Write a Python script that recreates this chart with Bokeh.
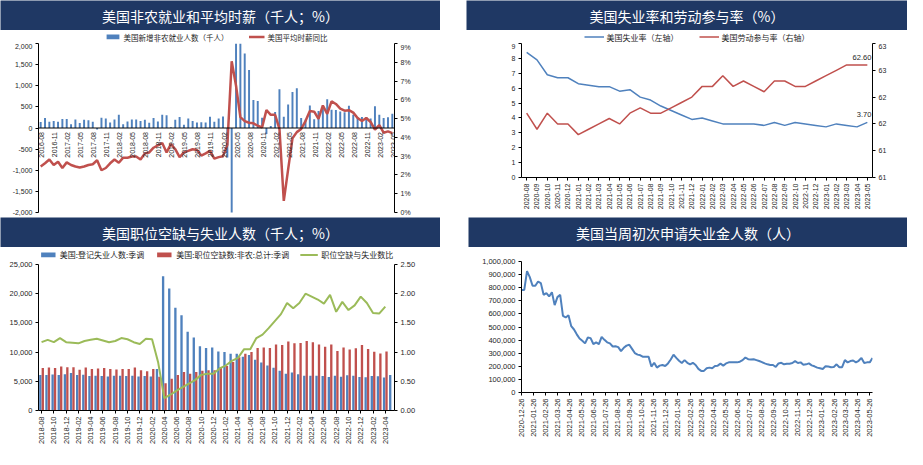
import numpy as np
import pandas as pd
from math import pi
from bokeh.plotting import figure
from bokeh.models import (Range1d, LinearAxis, FixedTicker, NumeralTickFormatter, PrintfTickFormatter,
                          ColumnDataSource, Span, Legend, LegendItem, DatetimeTickFormatter, Spacer)
from bokeh.layouts import row, column
from bokeh.core.properties import value
from bokeh.transform import dodge
from bokeh.embed import file_html
from bokeh.resources import INLINE

NAVY = "#1F3864"
BLUE = "#4F81BD"
RED = "#C0504D"
GREEN = "#9BBB59"
CJK = "Noto Sans CJK SC"
LAT = "Liberation Sans"
TXT = "#262626"
NAN = float("nan")

# ---------------- panel 1: nonfarm payrolls & hourly earnings ----------------
p1_title = "美国非农就业和平均时薪（千人；%）"
p1_legend = ["美国新增非农就业人数（千人）", "美国平均时薪同比"]
p1_months = [str(m) for m in pd.period_range("2016-08", "2023-05", freq="M")]
nfp = [141, 237, 148, 163, 148,
       215, 215, 89, 200, 118, 193, 185, 148, -33, 244, 222, 133,
       200, 311, 89, 155, 200, 200, 163, 193, 126, 237, 155, 311,
       304, 20, 196, 263, 75, 224, 164, 130, 136, 128, 266, 145,
       225, 273, -701, -20500, 2509, 4800, 1763, 1371, 661, 638, 245, -140,
       49, 379, 916, 266, 559, 850, 943, 235, 194, 531, 210, 400,
       467, 678, 431, 428, 390, 372, 528, 315, 263, 261, 263, 223,
       517, 311, 236, 253, 339]
ahe = [2.45, 2.62, 2.82, 2.53, 2.70,
       2.37, 2.67, 2.53, 2.45, 2.40, 2.45, 2.53, 2.57, 2.78, 2.25, 2.37, 2.62,
       2.82, 2.65, 2.92, 2.92, 2.98, 2.98, 2.82, 3.15, 3.20, 3.45, 3.58, 3.70,
       3.20, 3.65, 3.37, 2.95, 3.20, 3.28, 3.37, 3.33, 3.03, 3.15, 3.28, 2.87,
       2.95, 3.00, 3.60, 8.05, 6.75, 5.08, 4.87, 4.78, 4.75, 4.62, 4.53, 5.45,
       5.20, 5.20, 4.45, 0.62, 2.30, 3.95, 4.28, 4.45, 4.87, 5.40, 5.37, 4.98,
       5.70, 5.25, 5.92, 5.78, 5.53, 5.42, 5.45, 5.32, 5.03, 4.87, 5.03, 4.82,
       4.42, 4.65, 4.25, 4.32, 4.23]
p1_left_ticks = [-2000, -1500, -1000, -500, 0, 500, 1000, 1500, 2000]
p1_right_ticks = [0, 1, 2, 3, 4, 5, 6, 7, 8, 9]

# ---------------- panel 2: unemployment rate & participation ----------------
p2_title = "美国失业率和劳动参与率（%）"
p2_legend = ["美国失业率（左轴）", "美国劳动参与率（右轴）"]
p2_months = [str(m) for m in pd.period_range("2020-08", "2023-05", freq="M")]
ur = [8.4, 7.9, 6.9, 6.7, 6.7, 6.3, 6.2, 6.1, 6.1, 5.8, 5.9, 5.4, 5.2, 4.8, 4.5, 4.2, 3.9,
      4.0, 3.8, 3.6, 3.6, 3.6, 3.6, 3.5, 3.7, 3.5, 3.7, 3.6, 3.5, 3.4, 3.6, 3.5, 3.4, 3.7]
lfpr = [61.7, 61.4, 61.7, 61.5, 61.5, 61.3, 61.4, 61.5, 61.6, 61.5, 61.7, 61.8, 61.7, 61.7,
        61.8, 61.9, 62.0, 62.2, 62.2, 62.4, 62.2, 62.3, 62.2, 62.1, 62.3, 62.3, 62.2, 62.2,
        62.3, 62.4, 62.5, 62.6, 62.6, 62.6]
p2_left_ticks = [0, 1, 2, 3, 4, 5, 6, 7, 8, 9]
p2_right_ticks = [60.5, 61.0, 61.5, 62.0, 62.5, 63.0]
p2_right_labels = ["61", "61", "62", "62", "63", "63"]

# ---------------- panel 3: openings vs unemployed ----------------
p3_title = "美国职位空缺与失业人数（千人；%）"
p3_legend = ["美国:登记失业人数:季调", "美国:职位空缺数:非农:总计:季调", "职位空缺与失业数比"]
p3_months = [str(m) for m in pd.period_range("2018-08", "2023-05", freq="M")]
unemployed = [6060, 6060, 6170, 6060, 6220, 6440, 6060, 6110, 5900, 5950, 5900, 5840, 5950,
              5950, 5900, 5950, 5840, 5900, 5840, 7100,
              23000, 20900, 17600, 16300, 13500, 12500, 11000, 10700, 10800,
              10100, 10000, 9700, 9700, 9200, 9500, 8700, 8200, 7700, 7300, 6800, 6300,
              6500, 6200, 5950, 5950, 5950, 5900, 5750, 5950, 5800, 6050, 5950, 5750,
              5700, 5900, 5850, 5650, 6100]
openings = [7260, 7370, 7260, 7530, 7420, 7420, 6990, 7370, 7100, 7200, 7260, 7100, 7040,
            7100, 7100, 7370, 6880, 6710, 7100, 5800,
            4650, 5450, 6100, 6600, 6300, 6600, 6800, 6900, 6900,
            7400, 7600, 8300, 9100, 9700, 10000, 10700, 10800, 10700, 11300, 11200, 11800,
            11500, 11550, 11900, 11700, 11300, 10900, 11300, 10200, 10800, 10450, 10650, 11200,
            10550, 10050, 9750, 10100, NAN]
ratio = [1.17, 1.21, 1.17, 1.24, 1.17, 1.16, 1.15, 1.19, 1.21, 1.23, 1.20, 1.17, 1.19,
         1.24, 1.22, 1.17, 1.14, 1.23, 1.22, 0.82,
         0.21, 0.27, 0.34, 0.40, 0.46, 0.52, 0.61, 0.63, 0.63,
         0.72, 0.77, 0.85, 0.90, 1.05, 1.05, 1.24, 1.30, 1.41, 1.53, 1.65, 1.84,
         1.75, 1.84, 2.00, 1.95, 1.90, 1.83, 1.98, 1.69, 1.86, 1.72, 1.80, 1.95,
         1.84, 1.67, 1.66, 1.78, NAN]
p3_left_ticks = [0, 5000, 10000, 15000, 20000, 25000]
p3_right_ticks = [0, 0.5, 1.0, 1.5, 2.0, 2.5]

# ---------------- panel 4: weekly initial claims ----------------
p4_title = "美国当周初次申请失业金人数（人）"
p4_start = "2020-12-26"
claims_k = [783, 783, 926, 881, 815, 815, 847, 835, 746, 758,
            733, 765, 667, 728, 746, 585, 573, 590, 506, 481,
            444, 412, 395, 375, 420, 415, 370, 383, 370, 425,
            402, 383, 375, 351, 353, 346, 316, 341, 358, 365,
            333, 301, 289, 284, 272, 272, 272, 198, 227, 190,
            205, 210, 202, 222, 252, 289, 264, 242, 225, 247,
            227, 215, 227, 210, 180, 165, 165, 185, 190, 185,
            202, 205, 220, 205, 222, 230, 230, 230, 230, 235,
            247, 267, 254, 252, 254, 247, 240, 232, 222, 215,
            210, 210, 195, 222, 227, 215, 220, 220, 225, 240,
            225, 230, 212, 215, 222, 207, 200, 190, 185, 180,
            200, 198, 193, 195, 215, 193, 193, 247, 230, 240,
            244, 230, 242, 264, 225, 230, 230, 264]
p4_dates = pd.date_range(p4_start, periods=len(claims_k), freq="7D")
p4_tick_dates = pd.date_range("2020-12-26", "2023-05-26", freq=pd.DateOffset(months=1))
p4_left_ticks = list(range(0, 1000001, 100000))


def base_fig(**kw):
    f = figure(toolbar_location=None, output_backend="svg", **kw)
    f.outline_line_color = None
    f.background_fill_color = "white"
    f.border_fill_color = "white"
    f.grid.visible = False
    return f


def style_axis(ax, size="7px"):
    ax.axis_line_color = "black"
    ax.axis_line_width = 1
    ax.major_tick_line_color = "black"
    ax.major_tick_out = 3
    ax.major_tick_in = 0
    ax.minor_tick_line_color = None
    ax.major_label_text_font = LAT
    ax.major_label_text_font_size = size
    ax.major_label_text_color = TXT
    ax.major_label_standoff = 3


def legend_strip(spec, w, h, ml, mr, size, spacing, glyph_w):
    """A thin figure that only carries the legend, placed just above the chart."""
    s = figure(width=w, height=h, x_range=(0, 1), y_range=(0, 1), toolbar_location=None,
               output_backend="svg", x_axis_location=None, y_axis_location=None,
               min_border_left=ml, min_border_right=mr, min_border_top=0, min_border_bottom=0)
    s.outline_line_color = None
    s.grid.visible = False
    items = []
    for label, kind, color, lw in spec:
        # NaN-only sources: nothing is drawn in the strip, only the legend swatch
        if kind == "bar":
            r = s.vbar(x=[NAN], top=[NAN], width=0.5, fill_color=color, line_color=None)
        else:
            r = s.line(x=[NAN, NAN], y=[NAN, NAN], line_color=color, line_width=lw)
        items.append(LegendItem(label=label, renderers=[r]))
    leg = Legend(items=items, location="center", orientation="horizontal")
    leg.background_fill_alpha = 0
    leg.border_line_color = None
    leg.label_text_font = CJK
    leg.label_text_font_size = size
    leg.label_text_color = TXT
    leg.glyph_width = glyph_w
    leg.glyph_height = 6
    leg.label_standoff = 3
    leg.spacing = spacing
    leg.padding = 1
    leg.margin = 0
    leg.label_height = 9
    s.add_layout(leg)
    return s


def title_bar(text, w, h=30):
    t = figure(width=w, height=h, x_range=(0, 1), y_range=(0, 1), toolbar_location=None,
               output_backend="svg", x_axis_location=None, y_axis_location=None, min_border=0)
    t.outline_line_color = None
    t.grid.visible = False
    t.background_fill_color = NAVY
    t.border_fill_color = NAVY
    t.text(x=[0.5], y=[0.5], text=[text], text_align="center", text_baseline="middle",
           text_color="white", text_font=value(CJK), text_font_size="14px")
    return t


# ---------------- panel 1 ----------------
S1 = 13
H1 = 187 - S1
p1 = base_fig(width=453, height=H1, x_range=Range1d(-0.5, len(nfp) - 0.5), y_range=Range1d(-2000, 2000),
              min_border_left=33, min_border_right=47, min_border_top=0, min_border_bottom=5,
              x_axis_location=None)
p1.extra_y_ranges = {"pct": Range1d(0, 9)}
p1.yaxis.ticker = FixedTicker(ticks=p1_left_ticks)
p1.yaxis.formatter = NumeralTickFormatter(format="0,0")
ax1r = LinearAxis(y_range_name="pct", ticker=FixedTicker(ticks=p1_right_ticks),
                  formatter=PrintfTickFormatter(format="%d%%"))
p1.add_layout(ax1r, "right")
for ax in [p1.yaxis[0], ax1r]:
    style_axis(ax, "7px")
src1 = ColumnDataSource(dict(x=list(range(len(nfp))), nfp=nfp, ahe=ahe))
p1.vbar(x="x", top="nfp", width=0.45, source=src1, fill_color=BLUE, line_color=None)
p1.line(x="x", y="ahe", source=src1, y_range_name="pct", line_color=RED, line_width=2.5)
p1.add_layout(Span(location=0, dimension="width", line_color="black", line_width=1))
lab_idx = list(range(0, len(nfp), 3))
lab1 = ColumnDataSource(dict(x=lab_idx, y=[0] * len(lab_idx), t=[p1_months[i] for i in lab_idx]))
p1.text(x="x", y="y", text="t", source=lab1, angle=pi / 2, text_align="right", text_baseline="middle",
        text_font=value(LAT), text_font_size="7px", text_color=TXT, y_offset=4, x_offset=1)
s1 = legend_strip([(p1_legend[0], "bar", BLUE, 0), (p1_legend[1], "line", RED, 2.5)],
                  453, S1, 33, 47, "7.5px", 20, 16)

# ---------------- panel 2 ----------------
S2 = 13
H2 = 187 - S2
p2 = base_fig(width=454, height=H2, x_range=Range1d(-0.5, len(ur) - 0.5), y_range=Range1d(0, 9),
              min_border_left=40, min_border_right=35, min_border_top=0, min_border_bottom=40)
p2.extra_y_ranges = {"lfpr": Range1d(p2_right_ticks[0], p2_right_ticks[-1])}
p2.xaxis.ticker = FixedTicker(ticks=list(range(len(p2_months))))
p2.xaxis.major_label_overrides = {i: m for i, m in enumerate(p2_months)}
p2.xaxis.major_label_orientation = pi / 2
p2.yaxis.ticker = FixedTicker(ticks=p2_left_ticks)
ax2r = LinearAxis(y_range_name="lfpr", ticker=FixedTicker(ticks=p2_right_ticks))
ax2r.major_label_overrides = {t: s for t, s in zip(p2_right_ticks, p2_right_labels)}
p2.add_layout(ax2r, "right")
for ax in [p2.xaxis[0], p2.yaxis[0], ax2r]:
    style_axis(ax, "7px")
src2 = ColumnDataSource(dict(x=list(range(len(ur))), ur=ur, lfpr=lfpr))
p2.line(x="x", y="ur", source=src2, line_color=BLUE, line_width=1.5)
p2.line(x="x", y="lfpr", source=src2, y_range_name="lfpr", line_color=RED, line_width=1.5)
end2a = ColumnDataSource(dict(x=[len(ur) - 1], y=[ur[-1]], t=["%.2f" % ur[-1]]))
end2b = ColumnDataSource(dict(x=[len(lfpr) - 1], y=[lfpr[-1]], t=["%.2f" % lfpr[-1]]))
p2.text(x="x", y="y", text="t", source=end2a, text_align="right", text_baseline="bottom",
        text_font=value(LAT), text_font_size="7.5px", text_color=TXT, y_offset=-5, x_offset=4)
p2.text(x="x", y="y", text="t", source=end2b, y_range_name="lfpr", text_align="right",
        text_baseline="bottom", text_font=value(LAT), text_font_size="7.5px", text_color=TXT,
        y_offset=-5, x_offset=4)
s2 = legend_strip([(p2_legend[0], "line", BLUE, 1.5), (p2_legend[1], "line", RED, 1.5)],
                  454, S2, 40, 35, "8px", 20, 20)

# ---------------- panel 3 ----------------
S3 = 14
H3 = 202 - S3
p3 = base_fig(width=453, height=H3, x_range=Range1d(-0.5, len(p3_months) - 0.5), y_range=Range1d(0, 25000),
              min_border_left=38, min_border_right=59, min_border_top=3, min_border_bottom=39)
p3.extra_y_ranges = {"ratio": Range1d(0, 2.5)}
tick3 = list(range(0, len(p3_months), 2))
p3.xaxis.ticker = FixedTicker(ticks=tick3)
p3.xaxis.major_label_overrides = {i: p3_months[i] for i in tick3}
p3.xaxis.major_label_orientation = pi / 2
p3.yaxis.ticker = FixedTicker(ticks=p3_left_ticks)
p3.yaxis.formatter = NumeralTickFormatter(format="0,0")
ax3r = LinearAxis(y_range_name="ratio", ticker=FixedTicker(ticks=p3_right_ticks),
                  formatter=PrintfTickFormatter(format="%.2f"))
p3.add_layout(ax3r, "right")
for ax in [p3.xaxis[0], p3.yaxis[0], ax3r]:
    style_axis(ax, "7.5px")
src3 = ColumnDataSource(dict(x=list(range(len(p3_months))), u=unemployed, o=openings, r=ratio))
p3.vbar(x=dodge("x", -0.2), top="u", width=0.38, source=src3, fill_color=BLUE, line_color=None)
p3.vbar(x=dodge("x", 0.2), top="o", width=0.38, source=src3, fill_color=RED, line_color=None)
p3.line(x="x", y="r", source=src3, y_range_name="ratio", line_color=GREEN, line_width=2)
s3 = legend_strip([(p3_legend[0], "bar", BLUE, 0), (p3_legend[1], "bar", RED, 0),
                   (p3_legend[2], "line", GREEN, 2)],
                  453, S3, 38, 59, "8px", 11, 18)

# ---------------- panel 4 ----------------
H4 = 202
p4 = base_fig(width=454, height=H4, x_axis_type="datetime",
              x_range=Range1d(p4_dates[0], p4_dates[-1]), y_range=Range1d(0, 1000000),
              min_border_left=68, min_border_right=29, min_border_top=14, min_border_bottom=57)
p4.xaxis.ticker = FixedTicker(ticks=[d.value // 10**6 for d in p4_tick_dates])
fmt = "%Y-%m-%d"
p4.xaxis.formatter = DatetimeTickFormatter(days=fmt, months=fmt, years=fmt, hours=fmt, hourmin=fmt)
p4.xaxis.major_label_orientation = pi / 2
p4.yaxis.ticker = FixedTicker(ticks=p4_left_ticks)
p4.yaxis.formatter = NumeralTickFormatter(format="0,0")
for ax in [p4.xaxis[0], p4.yaxis[0]]:
    style_axis(ax, "7.5px")
src4 = ColumnDataSource(dict(x=p4_dates, y=np.array(claims_k) * 1000))
p4.line(x="x", y="y", source=src4, line_color=BLUE, line_width=2)

# ---------------- layout ----------------
left = column(row(title_bar(p1_title, 440), Spacer(width=13, height=30)), s1, p1,
              row(title_bar(p3_title, 440), Spacer(width=13, height=30)), s3, p3)
right = column(row(Spacer(width=13, height=30), title_bar(p2_title, 441)), s2, p2,
               row(Spacer(width=15, height=30), title_bar(p4_title, 439)), p4)
page = row(left, right)

open("out.html", "w").write(file_html(page, INLINE))
